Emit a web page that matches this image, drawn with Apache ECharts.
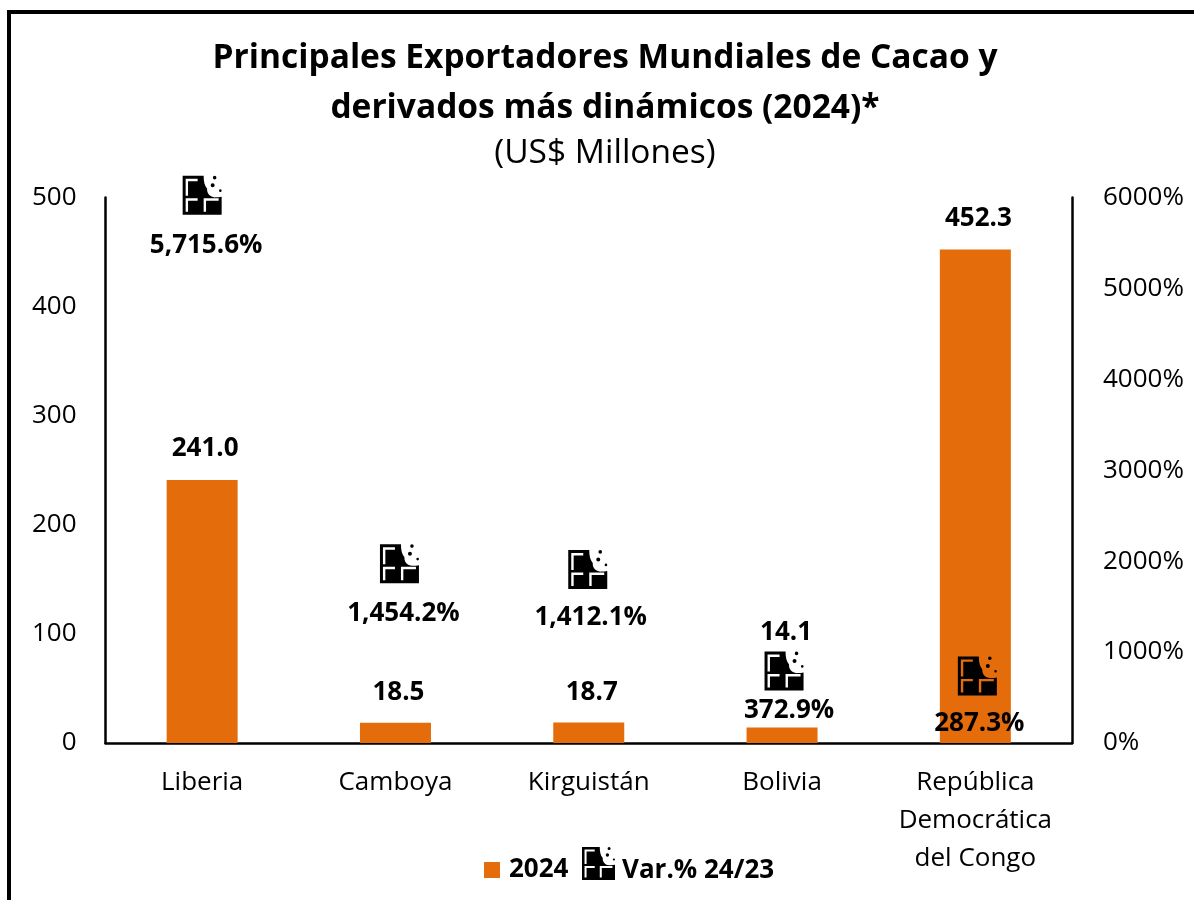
<!DOCTYPE html>
<html>
<head>
<meta charset="utf-8">
<style>html,body{margin:0;padding:0;background:#fff}#c{width:1194px;height:900px}</style>
<script src="https://cdn.jsdelivr.net/npm/echarts@6/dist/echarts.min.js"></script>
</head>
<body>
<div id="c"></div>
<script>
const categories = ['Liberia', 'Camboya', 'Kirguistán', 'Bolivia', 'República\nDemocrática\ndel Congo'];
const values2024 = [241.0, 18.5, 18.7, 14.1, 452.3];
const varPct = [5715.6, 1454.2, 1412.1, 372.9, 287.3];
const barLabelShiftX = [3, 3, 3, 4, 3];
const barLabelShiftY = [0, 1, 1, -64, 0];
const iconShiftX = [0, 4, -1, 2, 2];
const iconShiftY = [-28, -47, -45, -38, -41];
const varLabelShiftX = [4, 4, 3, 5, 2];
const varLabelShiftY = [50, 50, 48, 39, 48];
const FONT = '"Open Sans"';
const ICON = 'path://M0 0H21C21 6 22 10 24.5 13C24 18 28 22 33 21.5C35 21.5 37 21.5 39 21V39H0Z' +
  'M3 3V20H5.4V5.4H15V3Z M3 22.5V36H5.4V24.9H15V22.5Z M21 22.5V36H23.4V24.9H36V22.5Z' +
  'M30.2 1.8a1.8 1.8 0 1 0 3.6 0a1.8 1.8 0 1 0 -3.6 0Z' +
  'M28 9.5a2 2 0 1 0 4 0a2 2 0 1 0 -4 0Z' +
  'M36.4 14.8a1.3 1.3 0 1 0 2.6 0a1.3 1.3 0 1 0 -2.6 0Z';
// Zero-area tail: makes the legend box taller so its text sits lower than the icon.
const LEGEND_ICON = ICON + 'M0 56.7H0.01Z';
const chart = echarts.init(document.getElementById('c'), null, {renderer: 'canvas'});
chart.setOption({
  animation: false,
  backgroundColor: '#fff',
  textStyle: {fontFamily: FONT},
  title: [
    {text: 'Principales Exportadores Mundiales de Cacao y\nderivados más dinámicos (2024)*',
     left: 605, top: 33, textAlign: 'center', padding: 0,
     textStyle: {fontFamily: FONT, fontSize: 33.5, fontWeight: 'bold', color: '#000', lineHeight: 50}},
    {text: '(US$ Millones)', left: 605, top: 133, textAlign: 'center', padding: 0,
     textStyle: {fontFamily: FONT, fontSize: 33.5, fontWeight: 'normal', color: '#000', lineHeight: 40}}
  ],
  grid: {left: 105.5, right: 122, top: 197.5, bottom: 157, containLabel: false},
  legend: [
    {data: [{name: '2024', icon: 'rect'}], left: 484, top: 857, itemWidth: 16, itemHeight: 16, itemGap: 0, padding: 0, selectedMode: false,
     textStyle: {fontFamily: FONT, fontSize: 26, fontWeight: 'bold', color: '#000', padding: [2, 0, 0, 4]}},
    {data: [{name: 'Var.% 24/23', icon: LEGEND_ICON}], left: 582, top: 847, itemWidth: 33, itemHeight: 48, itemGap: 0, padding: 0, selectedMode: false,
     textStyle: {fontFamily: FONT, fontSize: 26, fontWeight: 'bold', color: '#000', padding: [0, 0, 0, 2]}}
  ],
  xAxis: {
    type: 'category', data: categories,
    axisLine: {show: true, lineStyle: {color: '#000', width: 2.5}},
    axisTick: {show: false},
    axisLabel: {color: '#000', fontSize: 26, lineHeight: 38, margin: 21, interval: 0, fontFamily: FONT}
  },
  yAxis: [
    {type: 'value', min: 0, max: 500, interval: 100,
     axisLine: {show: true, lineStyle: {color: '#000', width: 2.5}},
     axisTick: {show: false}, splitLine: {show: false},
     axisLabel: {color: '#000', fontSize: 26, margin: 29, fontFamily: FONT}},
    {type: 'value', min: 0, max: 6000, interval: 1000, position: 'right',
     axisLine: {show: true, lineStyle: {color: '#000', width: 2.5}},
     axisTick: {show: false}, splitLine: {show: false},
     axisLabel: {color: '#000', fontSize: 26, margin: 31, fontFamily: FONT, formatter: v => v + '%'}}
  ],
  series: [
    {name: '2024', type: 'bar', barWidth: 71, z: 2,
     itemStyle: {color: '#E46C0A'},
     data: values2024.map((v, i) => ({value: v, label: {offset: [barLabelShiftX[i], barLabelShiftY[i]]}})),
     label: {show: true, position: 'top', distance: 18, color: '#000', fontSize: 26, fontWeight: 'bold', fontFamily: FONT,
             formatter: p => p.value.toFixed(1)}},
    {name: 'Var.% 24/23', type: 'scatter', yAxisIndex: 1, z: 3,
     symbol: ICON, symbolSize: [39, 39], symbolKeepAspect: true,
     itemStyle: {color: '#000', opacity: 1},
     data: varPct.map((v, i) => ({value: v, symbolOffset: [iconShiftX[i], iconShiftY[i]],
       label: {offset: [varLabelShiftX[i], varLabelShiftY[i]]}})),
     label: {show: true, position: 'inside', color: '#000', textBorderWidth: 0, fontSize: 26, fontWeight: 'bold', fontFamily: FONT,
             formatter: p => p.value.toLocaleString('en-US', {minimumFractionDigits: 1, maximumFractionDigits: 1}) + '%'}}
  ],
  graphic: [{type: 'rect', silent: true, z: 100,
    shape: {x: 9, y: 12, width: 1400, height: 1100},
    style: {fill: null, stroke: '#000', lineWidth: 4}}]
});
</script>
</body>
</html>
